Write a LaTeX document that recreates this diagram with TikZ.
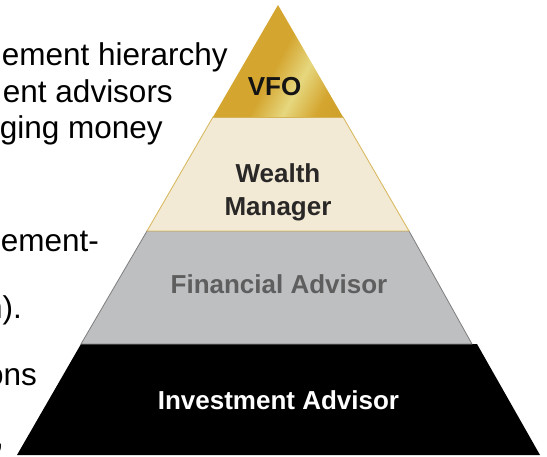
\documentclass[tikz,border=0pt]{standalone}
\usepackage{fontspec}
\setmainfont{Liberation Sans}
\definecolor{goldA}{HTML}{D4A52F}
\definecolor{goldB}{HTML}{E6D77E}
\definecolor{goldC}{HTML}{C39A22}
\definecolor{cream}{HTML}{F2EAD5}
\definecolor{creamline}{HTML}{D9BA62}
\definecolor{fagray}{HTML}{BEBFC1}
\definecolor{faline}{HTML}{7E7E7E}
\definecolor{fatext}{HTML}{5E5E5E}
\definecolor{wmtext}{HTML}{2A2727}
\pgfdeclarehorizontalshading{goldshade}{100bp}{color(0bp)=(goldA); color(50bp)=(goldA); color(62bp)=(goldB); color(74bp)=(goldA); color(100bp)=(goldC)}
\tikzset{
  sidetext/.style={inner sep=0pt, anchor=base east, font=\fontsize{31.5}{36}\selectfont, text=black},
  tierlabel/.style={inner sep=0pt, anchor=base, font=\fontsize{26}{33}\selectfont\bfseries},
}
\begin{document}
\begin{tikzpicture}[x=1pt,y=-1pt]
\useasboundingbox (0,0) rectangle (547,456);
% background paragraph text (clipped at the left edge)
\begin{scope}
\clip (0,0) rectangle (547,456);
\node[sidetext] (t1) at (228,65) {ement hierarchy};
\node[sidetext] (t2) at (173,102) {ent advisors};
\node[sidetext] (t3) at (163,138) {ging money};
\node[sidetext] (t4) at (99,251) {ement-};
\node[sidetext] (t5) at (22,318) {n).};
\node[sidetext] (t6) at (37,385) {ons};
\node[sidetext, anchor=base west] (t7) at (-5,447) {,};
\end{scope}
% pyramid corner points
\coordinate (apex) at (278,5);
\coordinate (l1) at (213,117);  \coordinate (r1) at (343,117);
\coordinate (l2) at (147,231);  \coordinate (r2) at (409,231);
\coordinate (l3) at (81,344);   \coordinate (r3) at (472,344);
\coordinate (l3b) at (81,344);  \coordinate (r3b) at (477,344);
\coordinate (l4) at (17,455);   \coordinate (r4) at (540,455);
% Investment Advisor tier
\fill[black] (l3b) -- (r3b) -- (r4) -- (l4) -- cycle;
% Financial Advisor tier
\fill[fagray] (l2) -- (r2) -- (r3) -- (l3) -- cycle;
\draw[faline, line width=0.8pt] (l3) -- (l2) -- (r2) -- (r3) -- cycle;
% Wealth Manager tier
\fill[cream] (l1) -- (r1) -- (r2) -- (l2) -- cycle;
\draw[creamline, line width=0.9pt] (l2) -- (l1) -- (r1) -- (r2) -- cycle;
% VFO tier
\shade[shading=goldshade, shading angle=-28] (apex) -- (r1) -- (l1) -- cycle;
\draw[creamline!80!goldC, line width=0.9pt] (l1) -- (r1);
% labels
\node[tierlabel, text=black!92] (vfo) at (274.5,95) {VFO};
\node[tierlabel, text=wmtext] (wm1) at (278,182) {Wealth};
\node[tierlabel, text=wmtext] (wm2) at (278,215) {Manager};
\node[tierlabel, text=fatext] (fa) at (279,293) {Financial Advisor};
\node[tierlabel, text=white] (ia) at (278.5,409) {Investment Advisor};
\end{tikzpicture}
\end{document}
